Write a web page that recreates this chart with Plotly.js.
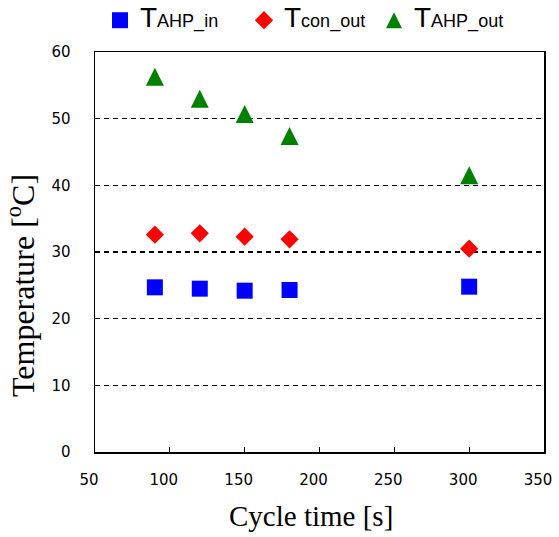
<!DOCTYPE html>
<html>
<head>
<meta charset="utf-8">
<script src="https://cdn.plot.ly/plotly-3.0.1.min.js"></script>
<style>
  html, body { margin: 0; padding: 0; background: #fff; }
  #chart { width: 559px; height: 537px; }
</style>
</head>
<body>
<div id="chart"></div>
<script>
// Cycle time [s] for each test
const cycleTime = [90, 120, 150, 180, 300];
// Measured temperatures [°C]
const tAhpIn  = [24.7, 24.5, 24.2, 24.3, 24.8];
const tConOut = [32.6, 32.8, 32.3, 31.9, 30.5];
const tAhpOut = [56.3, 53.0, 50.7, 47.4, 41.5];
// Axis ticks
const xTicks = [50, 100, 150, 200, 250, 300, 350];
const yTicks = [0, 10, 20, 30, 40, 50, 60];

const legendFont = {family: 'Liberation Sans, Arial, sans-serif', size: 18, color: '#000'};
// large "T" followed by a smaller, baseline-aligned suffix
const label = s => "<span style='font-size:28px'>T</span>" + s;
const green = '#008000';

const traces = [
  {
    x: cycleTime, y: tAhpIn, type: 'scatter', mode: 'markers',
    name: label('AHP_in'), legend: 'legend',
    marker: {symbol: 'square', size: 16, color: '#0000FF'}
  },
  {
    x: cycleTime, y: tConOut, type: 'scatter', mode: 'markers',
    name: label('con_out'), legend: 'legend2',
    marker: {symbol: 'diamond', size: 14, color: '#FF0000'}
  },
  {
    // tall triangle: arrow head flipped upward and centred on the point
    x: cycleTime, y: tAhpOut, type: 'scatter', mode: 'markers',
    name: label('AHP_out'), legend: 'legend3', legendgroup: 'ahpOut', showlegend: false,
    marker: {symbol: 'arrow-down', angle: 180, standoff: 9, size: 18, color: green}
  },
  {
    // legend key for the triangle series (no data of its own)
    x: [null], y: [null], type: 'scatter', mode: 'markers',
    name: label('AHP_out'), legend: 'legend3', legendgroup: 'ahpOut', hoverinfo: 'skip',
    marker: {symbol: 'arrow-up', standoff: 8, size: 16, color: green}
  }
];

function legendAt(px) {
  return {
    x: px / 559, xref: 'container', xanchor: 'left',
    y: 1 - 2 / 537, yref: 'container', yanchor: 'top',
    orientation: 'h', font: legendFont, bgcolor: 'rgba(0,0,0,0)',
    borderwidth: 0, itemwidth: 30
  };
}

const tickFont = {family: 'DejaVu Sans, sans-serif', size: 15, color: '#000'};
const titleFont = {family: 'Liberation Serif, Times New Roman, serif', color: '#000'};

const layout = {
  width: 559, height: 537,
  margin: {l: 95, r: 15, t: 52, b: 85},
  paper_bgcolor: '#fff', plot_bgcolor: '#fff',
  showlegend: true,
  legend: legendAt(100),
  legend2: legendAt(244),
  legend3: legendAt(374),
  xaxis: {
    range: [50, 350], tickvals: xTicks, ticktext: xTicks.map(String),
    ticks: 'inside', ticklen: 5, tickwidth: 1, tickcolor: '#000',
    showline: true, linecolor: '#000', linewidth: 1.5, mirror: true,
    showgrid: false, zeroline: false,
    tickfont: tickFont, ticklabelstandoff: 13, ticklabelshift: -6
  },
  yaxis: {
    range: [0, 60], tickvals: yTicks, ticktext: yTicks.map(String),
    ticks: '', showline: true, linecolor: '#000', linewidth: 1.5, mirror: true,
    showgrid: true, gridcolor: '#000', gridwidth: 1.5, griddash: '5px,4px',
    zeroline: false,
    tickfont: tickFont, ticklabelstandoff: 20
  },
  annotations: [
    {
      text: 'Cycle time [s]',
      xref: 'paper', yref: 'paper',
      x: (311 - 95) / 449, y: (452 - 516) / 400,
      xanchor: 'center', yanchor: 'middle', showarrow: false,
      font: Object.assign({size: 29}, titleFont)
    },
    {
      text: 'Temperature [<sup>o</sup>C]',
      xref: 'paper', yref: 'paper',
      x: (21 - 95) / 449, y: (452 - 286) / 400,
      xanchor: 'center', yanchor: 'middle',
      textangle: -90, showarrow: false,
      font: Object.assign({size: 32}, titleFont)
    }
  ]
};

Plotly.newPlot('chart', traces, layout, {displayModeBar: false, staticPlot: true});
</script>
</body>
</html>
